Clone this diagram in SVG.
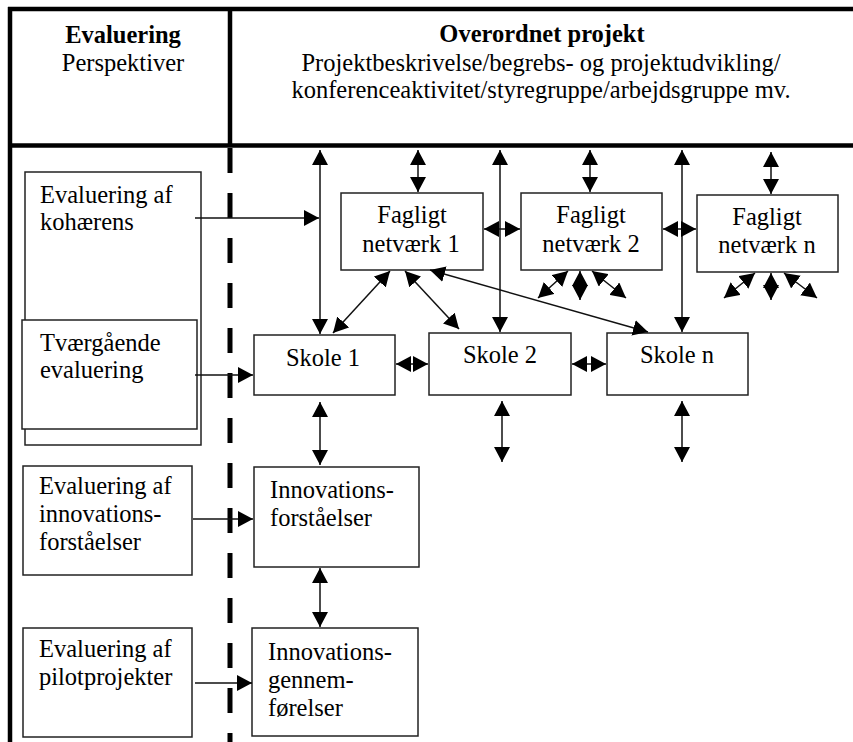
<svg xmlns="http://www.w3.org/2000/svg" width="853" height="742" viewBox="0 0 853 742">
<style>
.box{fill:#fff;stroke:#222;stroke-width:1.5}
.frame{stroke:#000;stroke-width:4.5;fill:none}
.t{font-family:"Liberation Serif","Times New Roman",serif;font-size:24.5px;fill:#000}
.b{font-weight:bold}
.c{text-anchor:middle}
.con line{stroke:#111;stroke-width:1.5;marker-end:url(#ah);marker-start:url(#ah)}
.con line.one{marker-start:none}
</style>
<defs>
<marker id="ah" viewBox="0 0 15 16" refX="15" refY="8" markerWidth="15" markerHeight="16" markerUnits="userSpaceOnUse" orient="auto-start-reverse">
<path d="M0,0 L15,8 L0,16 z" fill="#000"/>
</marker>
</defs>
<rect width="853" height="742" fill="#fff"/>
<g id="frame">
<line class="frame" x1="8" y1="9" x2="853" y2="9"/>
<line class="frame" x1="10" y1="7" x2="10" y2="742"/>
<line class="frame" x1="230" y1="7" x2="230" y2="146"/>
<line class="frame" x1="8" y1="145.5" x2="853" y2="145.5"/>
<line x1="230" y1="148" x2="230" y2="742" stroke="#000" stroke-width="5" stroke-dasharray="25 20"/>
</g>
<g id="header-left">
<text class="t b c" x="123" y="43">Evaluering</text>
<text class="t c" x="123" y="71">Perspektiver</text>
</g>
<g id="header-right">
<text class="t b c" x="542" y="42">Overordnet projekt</text>
<text class="t c" x="541" y="71">Projektbeskrivelse/begrebs- og projektudvikling/</text>
<text class="t c" x="541" y="98">konferenceaktivitet/styregruppe/arbejdsgruppe mv.</text>
</g>
<g id="eval-kohaerens">
<rect class="box" x="25" y="172" width="176" height="273"/>
<text class="t" x="40" y="203">Evaluering af</text>
<text class="t" x="40" y="230">kohærens</text>
</g>
<g id="eval-tvaergaaende">
<rect class="box" x="22" y="320" width="175" height="109"/>
<text class="t" x="40" y="351">Tværgående</text>
<text class="t" x="40" y="378">evaluering</text>
</g>
<g id="eval-innovationsforstaaelser">
<rect class="box" x="23" y="466" width="169" height="109"/>
<text class="t" x="39" y="494">Evaluering af</text>
<text class="t" x="39" y="522">innovations-</text>
<text class="t" x="39" y="550">forståelser</text>
</g>
<g id="eval-pilotprojekter">
<rect class="box" x="23" y="628" width="169" height="109"/>
<text class="t" x="39" y="657">Evaluering af</text>
<text class="t" x="39" y="685">pilotprojekter</text>
</g>
<g id="fagligt-1">
<rect class="box" x="341" y="193" width="142" height="77"/>
<text class="t c" x="412" y="223">Fagligt</text>
<text class="t c" x="411" y="252">netværk 1</text>
</g>
<g id="fagligt-2">
<rect class="box" x="521" y="193" width="141" height="77"/>
<text class="t c" x="591" y="223">Fagligt</text>
<text class="t c" x="591" y="252">netværk 2</text>
</g>
<g id="fagligt-n">
<rect class="box" x="697" y="195" width="141" height="77"/>
<text class="t c" x="767" y="225">Fagligt</text>
<text class="t c" x="767" y="253">netværk n</text>
</g>
<g id="skole-1">
<rect class="box" x="254" y="335" width="141" height="60"/>
<text class="t c" x="323" y="366">Skole 1</text>
</g>
<g id="skole-2">
<rect class="box" x="429" y="333" width="142" height="62"/>
<text class="t c" x="500" y="363">Skole 2</text>
</g>
<g id="skole-n">
<rect class="box" x="607" y="333" width="141" height="62"/>
<text class="t c" x="677" y="363">Skole n</text>
</g>
<g id="innovationsforstaaelser">
<rect class="box" x="254" y="467" width="165" height="100"/>
<text class="t" x="270" y="498">Innovations-</text>
<text class="t" x="270" y="526">forståelser</text>
</g>
<g id="innovationsgennemfoerelser">
<rect class="box" x="252" y="628" width="166" height="108"/>
<text class="t" x="268" y="660">Innovations-</text>
<text class="t" x="268" y="688">gennem-</text>
<text class="t" x="268" y="716">førelser</text>
</g>
<g id="connectors" class="con">
<line class="one" x1="195" y1="218" x2="319" y2="218"/>
<line class="one" x1="195" y1="375" x2="253" y2="375"/>
<line class="one" x1="193" y1="519" x2="253" y2="519"/>
<line class="one" x1="195" y1="683" x2="252" y2="683"/>
<line x1="320" y1="150" x2="320" y2="334"/>
<line x1="418" y1="150" x2="418" y2="192"/>
<line x1="500" y1="150" x2="500" y2="332"/>
<line x1="590" y1="150" x2="590" y2="192"/>
<line x1="682" y1="150" x2="682" y2="332"/>
<line x1="771" y1="152" x2="771" y2="194"/>
<line x1="484" y1="229" x2="520" y2="229"/>
<line x1="663" y1="229" x2="696" y2="229"/>
<line x1="396" y1="364" x2="428" y2="364"/>
<line x1="572" y1="364" x2="606" y2="364"/>
<line x1="390" y1="271" x2="333" y2="333"/>
<line x1="405" y1="271" x2="459" y2="329"/>
<line x1="430" y1="270" x2="648" y2="332"/>
<line x1="568" y1="271" x2="538" y2="298"/>
<line x1="580" y1="271" x2="580" y2="300"/>
<line x1="592" y1="271" x2="626" y2="298"/>
<line x1="755" y1="273" x2="724" y2="298"/>
<line x1="771" y1="273" x2="771" y2="300"/>
<line x1="784" y1="273" x2="817" y2="298"/>
<line x1="320" y1="402" x2="320" y2="465"/>
<line x1="502" y1="401" x2="502" y2="462"/>
<line x1="682" y1="401" x2="682" y2="462"/>
<line x1="320" y1="568" x2="320" y2="627"/>
</g>
</svg>
